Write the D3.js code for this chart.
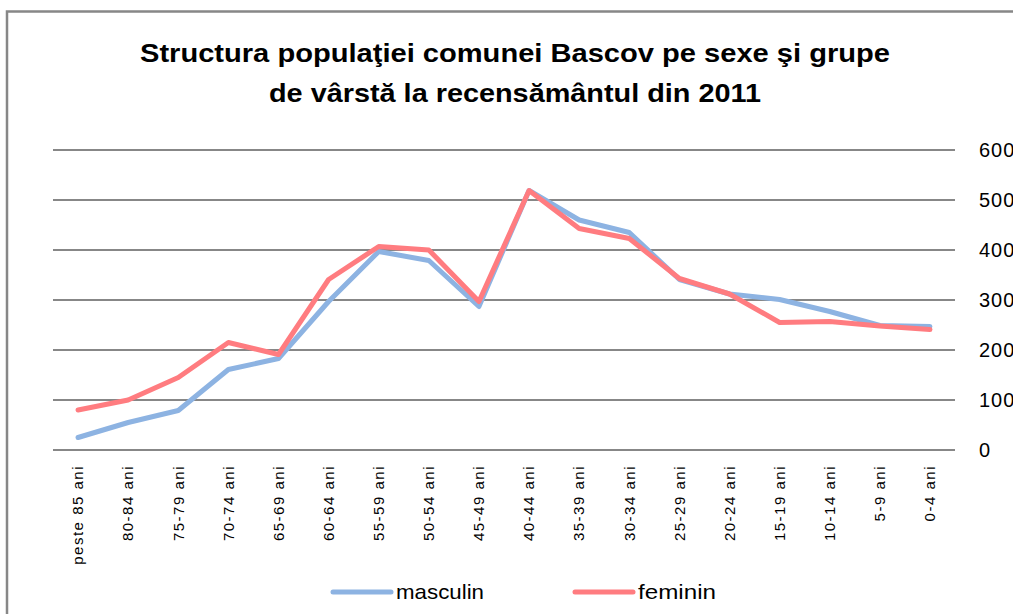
<!DOCTYPE html>
<html>
<head>
<meta charset="utf-8">
<script src="https://cdn.jsdelivr.net/npm/d3@7"></script>
<style>
  body { margin: 0; background: #fff; }
  svg { display: block; }
</style>
</head>
<body>
<div id="chart"></div>
<script>
// age groups, oldest first (as in the original sheet)
var categories = ["peste 85 ani", "80-84 ani", "75-79 ani", "70-74 ani", "65-69 ani",
  "60-64 ani", "55-59 ani", "50-54 ani", "45-49 ani", "40-44 ani", "35-39 ani",
  "30-34 ani", "25-29 ani", "20-24 ani", "15-19 ani", "10-14 ani", "5-9 ani", "0-4 ani"];
var masculin = [25, 55, 79, 161, 183, 297, 397, 379, 287, 519, 460, 435, 341, 312, 301, 277, 249, 247];
var feminin = [80, 100, 145, 215, 191, 341, 407, 400, 297, 519, 443, 423, 343, 312, 255, 257, 248, 241];
var yTicks = [0, 100, 200, 300, 400, 500, 600];
var titleLines = ["Structura populaţiei comunei  Bascov pe sexe şi grupe",
  "de vârstă la recensământul din 2011"];

var width = 1013, height = 614;
var margin = { top: 150, left: 53, right: 58, bottom: 164 };

var svg = d3.select("#chart").append("svg")
  .attr("width", width)
  .attr("height", height);

// chart area border (only top + left show in the crop)
svg.append("path")
  .attr("d", "M7," + height + "V11.5H" + width)
  .attr("fill", "none")
  .attr("stroke", "#878787")
  .attr("stroke-width", 2.5);

var x = d3.scaleBand()
  .domain(categories)
  .range([margin.left, width - margin.right]);
var y = d3.scaleLinear()
  .domain([0, 600])
  .range([height - margin.bottom, margin.top]);

// gridlines
svg.append("g")
  .selectAll("line")
  .data(yTicks)
  .enter()
  .append("line")
  .attr("x1", margin.left)
  .attr("x2", width - margin.right)
  .attr("y1", function (d) { return y(d); })
  .attr("y2", function (d) { return y(d); })
  .attr("stroke", "#878787")
  .attr("stroke-width", 2);

// y axis on the right, labels only (they run past the edge, like the original)
var yAxis = svg.append("g")
  .attr("transform", "translate(" + (width - margin.right + 24) + ",0)")
  .call(d3.axisRight(y).tickValues(yTicks).tickSize(0).tickPadding(0));
yAxis.select(".domain").remove();
yAxis.selectAll("text")
  .attr("font-family", "Liberation Sans")
  .attr("font-size", "20px")
  .attr("letter-spacing", "1px")
  .attr("fill", "#000");

// x axis labels, rotated
var xAxis = svg.append("g")
  .attr("transform", "translate(0," + (height - margin.bottom) + ")")
  .call(d3.axisBottom(x).tickSize(0).tickPadding(0));
xAxis.select(".domain").remove();
xAxis.selectAll("text")
  .attr("font-family", "Liberation Sans")
  .attr("font-size", "15px")
  .attr("letter-spacing", "1.5px")
  .attr("fill", "#000")
  .attr("text-anchor", "end")
  .attr("dy", "0.35em")
  .attr("transform", "translate(0,15) rotate(-90)")
  .attr("x", 0)
  .attr("y", 0);

var line = d3.line()
  .x(function (d, i) { return x(categories[i]) + x.bandwidth() / 2; })
  .y(function (d) { return y(d); });

var series = [
  { name: "masculin", values: masculin, color: "#8db3e2" },
  { name: "feminin", values: feminin, color: "#ff7c80" }
];

svg.append("g")
  .selectAll("path")
  .data(series)
  .enter()
  .append("path")
  .attr("d", function (d) { return line(d.values); })
  .attr("fill", "none")
  .attr("stroke", function (d) { return d.color; })
  .attr("stroke-width", 5)
  .attr("stroke-linejoin", "round")
  .attr("stroke-linecap", "round");

// title
svg.append("g")
  .selectAll("text")
  .data(titleLines)
  .enter()
  .append("text")
  .attr("x", 515)
  .attr("y", function (d, i) { return 62 + i * 40; })
  .attr("text-anchor", "middle")
  .attr("font-family", "Liberation Sans Narrow, Liberation Sans")
  .attr("font-weight", "bold")
  .attr("font-size", "26px")
  .attr("textLength", function (d, i) { return i === 0 ? 750 : 492; })
  .attr("lengthAdjust", "spacingAndGlyphs")
  .text(function (d) { return d; });

// legend
var legendX = [333, 575];
var legend = svg.append("g")
  .selectAll("g")
  .data(series)
  .enter()
  .append("g")
  .attr("transform", function (d, i) { return "translate(" + legendX[i] + ",592)"; });
legend.append("line")
  .attr("x1", 0)
  .attr("x2", 58)
  .attr("stroke", function (d) { return d.color; })
  .attr("stroke-width", 5)
  .attr("stroke-linecap", "round");
legend.append("text")
  .attr("x", 63)
  .attr("y", 7)
  .attr("font-family", "Liberation Sans Narrow, Liberation Sans")
  .attr("font-size", "21px")
  .attr("textLength", function (d, i) { return i === 0 ? 88 : 78; })
  .attr("lengthAdjust", "spacingAndGlyphs")
  .text(function (d) { return d.name; });
</script>
</body>
</html>
